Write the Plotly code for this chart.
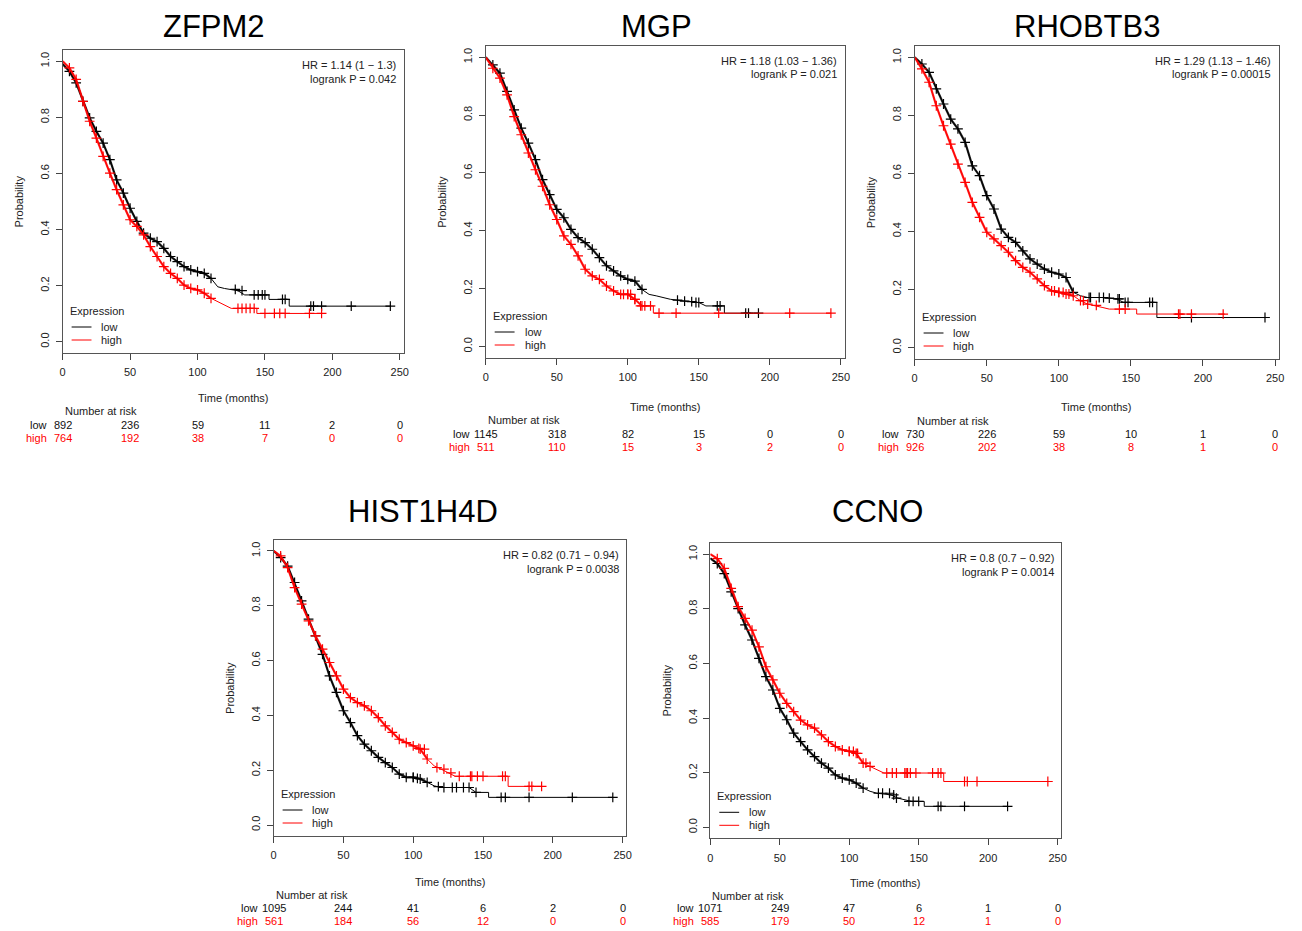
import plotly.graph_objects as go

W, H = 1302, 931          # browser window
PAD = 8                   # default body margin of the written page
FW, FH = W - PAD, H - PAD

# ---------------- data ----------------
GENES = ["ZFPM2", "MGP", "RHOBTB3", "HIST1H4D", "CCNO"]
X_TICKS = [0, 50, 100, 150, 200, 250]
Y_TICKS = [0.0, 0.2, 0.4, 0.6, 0.8, 1.0]
Y_TICK_TEXT = ["0.0", "0.2", "0.4", "0.6", "0.8", "1.0"]
GROUPS = ["low", "high"]

# ZFPM2
zfpm2_low_t = [0, 5, 10, 15, 20, 25, 30, 35, 40, 45, 50, 55, 60, 65, 70, 75, 80, 85, 90, 95, 100, 105, 110, 115, 120, 125, 130, 135, 153, 153, 168, 168, 243]
zfpm2_low_s = [0.99, .964, .923, .857, .798, .75, .708, .649, .577, .53, .476, .429, .387, .369, .357, .333, .304, .286, .268, .256, .25, .244, .226, .196, .19, .187, .182, .167, .167, .151, .151, .127, .127]
zfpm2_low_ct = [128, 133, 142, 145, 148, 150, 163, 165, 184, 186, 192, 214, 243]
zfpm2_low_cs = [.187, .182, .167, .167, .167, .167, .151, .151, .127, .127, .127, .127, .127]
zfpm2_high_t = [0, 5, 10, 15, 20, 25, 30, 35, 40, 45, 50, 55, 60, 65, 70, 75, 80, 85, 90, 95, 100, 105, 110, 115, 120, 125, 144, 144, 192]
zfpm2_high_s = [1.0, .976, .935, .857, .786, .726, .661, .601, .542, .488, .435, .411, .381, .339, .304, .268, .244, .226, .202, .19, .185, .173, .155, .143, .131, .119, .119, .101, .101]
zfpm2_high_ct = [130, 133, 136, 139, 142, 150, 157, 161, 165, 183, 192]
zfpm2_high_cs = [.119, .119, .119, .119, .119, .101, .101, .101, .101, .101, .101]
zfpm2_risk_low = [892, 236, 59, 11, 2, 0]
zfpm2_risk_high = [764, 192, 38, 7, 0, 0]
zfpm2_stats = ["HR = 1.14 (1 \u2212 1.3)", "logrank P = 0.042"]

# MGP
mgp_low_t = [0, 5, 10, 15, 20, 25, 30, 35, 40, 45, 50, 55, 60, 65, 70, 75, 80, 85, 90, 95, 100, 105, 110, 115, 120, 125, 130, 140, 150, 155, 168, 168, 192]
mgp_low_s = [1.0, .974, .945, .882, .818, .755, .703, .646, .577, .525, .474, .445, .405, .376, .359, .336, .307, .279, .261, .244, .232, .226, .197, .18, .175, .169, .163, .157, .152, .14, .14, .115, .115]
mgp_low_ct = [135, 140, 145, 148, 150, 163, 165, 183, 185, 192]
mgp_low_cs = [.16, .157, .155, .152, .152, .14, .14, .115, .115, .115]
mgp_high_t = [0, 5, 10, 15, 20, 25, 30, 35, 40, 45, 50, 55, 60, 65, 70, 75, 80, 85, 90, 95, 100, 105, 110, 118, 118, 243]
mgp_high_s = [1.0, .962, .928, .87, .795, .732, .669, .611, .554, .49, .439, .382, .353, .313, .267, .244, .232, .209, .192, .18, .18, .163, .14, .14, .115, .115]
mgp_high_ct = [97, 100, 102, 105, 109, 112, 116, 122, 134, 164, 214, 243]
mgp_high_cs = [.18, .18, .18, .163, .14, .14, .14, .115, .115, .115, .115, .115]
mgp_risk_low = [1145, 318, 82, 15, 0, 0]
mgp_risk_high = [511, 110, 15, 3, 2, 0]
mgp_stats = ["HR = 1.18 (1.03 \u2212 1.36)", "logrank P = 0.021"]

# RHOBTB3
rhobtb3_low_t = [0, 5, 10, 15, 20, 25, 30, 35, 40, 45, 50, 55, 60, 65, 70, 75, 80, 85, 90, 95, 100, 105, 110, 115, 120, 130, 140, 145, 168, 168, 243]
rhobtb3_low_s = [1.0, .977, .948, .891, .839, .787, .753, .707, .626, .592, .523, .477, .408, .379, .362, .333, .305, .287, .27, .259, .253, .241, .19, .178, .172, .172, .167, .155, .155, .103, .103]
rhobtb3_low_ct = [121, 122, 128, 131, 135, 141, 142, 146, 148, 163, 165, 192, 243]
rhobtb3_low_cs = [.172, .172, .172, .172, .17, .167, .167, .155, .155, .155, .155, .103, .103]
rhobtb3_high_t = [0, 5, 10, 15, 20, 25, 30, 35, 40, 45, 50, 55, 60, 65, 70, 75, 80, 85, 90, 95, 100, 105, 110, 115, 120, 130, 135, 145, 154, 154, 215]
rhobtb3_high_s = [1.0, .96, .914, .833, .764, .701, .632, .569, .5, .448, .397, .374, .351, .328, .299, .276, .259, .236, .213, .195, .19, .184, .178, .161, .149, .138, .132, .132, .132, .115, .115]
rhobtb3_high_ct = [97, 100, 103, 107, 115, 117, 120, 126, 142, 146, 183, 184, 192, 214]
rhobtb3_high_cs = [.195, .19, .19, .184, .161, .161, .149, .145, .132, .132, .115, .115, .115, .115]
rhobtb3_risk_low = [730, 226, 59, 10, 1, 0]
rhobtb3_risk_high = [926, 202, 38, 8, 1, 0]
rhobtb3_stats = ["HR = 1.29 (1.13 \u2212 1.46)", "logrank P = 0.00015"]

# HIST1H4D
hist1h4d_low_t = [0, 5, 10, 15, 20, 25, 30, 35, 40, 45, 50, 55, 60, 65, 70, 75, 80, 85, 90, 95, 100, 105, 110, 115, 120, 140, 145, 154, 154, 243]
hist1h4d_low_s = [1.0, .976, .945, .885, .818, .751, .69, .623, .544, .484, .417, .374, .326, .295, .271, .247, .228, .21, .186, .174, .174, .168, .156, .143, .137, .137, .119, .119, .101, .101]
hist1h4d_low_ct = [100, 103, 118, 122, 128, 131, 136, 140, 145, 163, 166, 183, 214, 243]
hist1h4d_low_cs = [.174, .17, .14, .137, .137, .137, .137, .137, .119, .101, .101, .101, .101, .101]
hist1h4d_high_t = [0, 5, 10, 15, 20, 25, 30, 35, 40, 45, 50, 55, 60, 65, 70, 75, 80, 85, 90, 95, 100, 105, 110, 115, 120, 125, 130, 168, 168, 192]
hist1h4d_high_s = [1.0, .982, .939, .866, .806, .745, .69, .642, .593, .544, .496, .465, .447, .435, .417, .392, .362, .338, .313, .301, .289, .277, .241, .216, .204, .192, .178, .178, .141, .141]
hist1h4d_high_ct = [104, 108, 117, 122, 127, 133, 141, 142, 146, 150, 164, 166, 183, 185, 192]
hist1h4d_high_cs = [.28, .277, .21, .204, .19, .178, .178, .178, .178, .178, .178, .178, .141, .141, .141]
hist1h4d_risk_low = [1095, 244, 41, 6, 2, 0]
hist1h4d_risk_high = [561, 184, 56, 12, 0, 0]
hist1h4d_stats = ["HR = 0.82 (0.71 \u2212 0.94)", "logrank P = 0.0038"]

# CCNO
ccno_low_t = [0, 5, 10, 15, 20, 25, 30, 35, 40, 45, 50, 55, 60, 65, 70, 75, 80, 85, 90, 95, 100, 105, 110, 115, 120, 130, 135, 145, 154, 154, 214]
ccno_low_s = [0.985, .966, .929, .862, .801, .741, .686, .619, .552, .503, .436, .394, .345, .314, .284, .259, .235, .217, .192, .18, .174, .162, .144, .132, .125, .119, .107, .095, .095, .077, .077]
ccno_low_ct = [121, 124, 129, 132, 134, 143, 146, 150, 164, 166, 183, 214]
ccno_low_cs = [.125, .125, .125, .119, .107, .095, .095, .095, .077, .077, .077, .077]
ccno_high_t = [0, 5, 10, 15, 20, 25, 30, 35, 40, 45, 50, 55, 60, 65, 70, 75, 80, 85, 90, 95, 100, 105, 110, 115, 120, 125, 168, 168, 243]
ccno_high_s = [1.0, .984, .948, .875, .808, .765, .722, .661, .588, .54, .491, .454, .424, .393, .375, .363, .339, .314, .296, .284, .278, .271, .235, .223, .211, .199, .199, .168, .168]
ccno_high_ct = [100, 103, 106, 112, 115, 127, 131, 134, 140, 141, 142, 144, 148, 160, 164, 166, 183, 185, 192, 243]
ccno_high_cs = [.278, .278, .271, .235, .223, .199, .199, .199, .199, .199, .199, .199, .199, .199, .199, .199, .168, .168, .168, .168]
ccno_risk_low = [1071, 249, 47, 6, 1, 0]
ccno_risk_high = [585, 179, 50, 12, 1, 0]
ccno_stats = ["HR = 0.8 (0.7 \u2212 0.92)", "logrank P = 0.0014"]

DATA = [
    (zfpm2_low_t, zfpm2_low_s, zfpm2_low_ct, zfpm2_low_cs, zfpm2_high_t, zfpm2_high_s, zfpm2_high_ct, zfpm2_high_cs, zfpm2_risk_low, zfpm2_risk_high, zfpm2_stats),
    (mgp_low_t, mgp_low_s, mgp_low_ct, mgp_low_cs, mgp_high_t, mgp_high_s, mgp_high_ct, mgp_high_cs, mgp_risk_low, mgp_risk_high, mgp_stats),
    (rhobtb3_low_t, rhobtb3_low_s, rhobtb3_low_ct, rhobtb3_low_cs, rhobtb3_high_t, rhobtb3_high_s, rhobtb3_high_ct, rhobtb3_high_cs, rhobtb3_risk_low, rhobtb3_risk_high, rhobtb3_stats),
    (hist1h4d_low_t, hist1h4d_low_s, hist1h4d_low_ct, hist1h4d_low_cs, hist1h4d_high_t, hist1h4d_high_s, hist1h4d_high_ct, hist1h4d_high_cs, hist1h4d_risk_low, hist1h4d_risk_high, hist1h4d_stats),
    (ccno_low_t, ccno_low_s, ccno_low_ct, ccno_low_cs, ccno_high_t, ccno_high_s, ccno_high_ct, ccno_high_cs, ccno_risk_low, ccno_risk_high, ccno_stats),
]

# ---------------- layout / style (pixel geometry in the page) ----------------
GEOM = [
    dict(L=60, R=403, T=50, B=353, time=398, nar=411, low=424.5, high=438, title=(212, 26)),
    dict(L=485.7, R=847, T=45.7, B=358, time=407, nar=420, low=434, high=447, title=(658, 26)),
    dict(L=917.3, R=1284, T=45.7, B=359, time=407, nar=421, low=434, high=447, title=(1091, 26)),
    dict(L=272.3, R=627.3, T=540, B=836, time=881.7, nar=895, low=907.7, high=920.5, title=(423, 511)),
    dict(L=711.7, R=1065, T=543.3, B=838.3, time=882.7, nar=895.7, low=908, high=921, title=(880, 511)),
]
COLORS = {"low": "#000000", "high": "#ff0000"}
FONT = "Liberation Sans, Arial, sans-serif"
X_MAX = 252.8
DENSE_MAX = 110


def px(x):
    return (x - PAD) / FW


def py(y):
    return 1 - (y - PAD) / FH


fig = go.Figure()
annotations = []
shapes = []

for i, (gene, g, d) in enumerate(zip(GENES, GEOM, DATA)):
    k = i + 1
    xa = "x" if k == 1 else f"x{k}"
    ya = "y" if k == 1 else f"y{k}"
    series = {"low": d[0:4], "high": d[4:8]}
    for grp in GROUPS:
        t, s, ct, cs = series[grp]
        c = COLORS[grp]
        mx = [tt for tt in t if tt <= DENSE_MAX]
        my = [ss for tt, ss in zip(t, s) if tt <= DENSE_MAX]
        # dense, censor-crowded early part drawn heavier
        fig.add_trace(go.Scatter(x=mx, y=my, mode="lines", line=dict(color=c, width=2.2),
                                 opacity=0.85, xaxis=xa, yaxis=ya, showlegend=False, hoverinfo="skip"))
        fig.add_trace(go.Scatter(x=t, y=s, mode="lines", line=dict(color=c, width=1),
                                 xaxis=xa, yaxis=ya, showlegend=False, hoverinfo="skip"))
        fig.add_trace(go.Scatter(x=mx[1:] + ct, y=my[1:] + cs, mode="markers",
                                 marker=dict(symbol="cross-thin", size=7, color=c,
                                             line=dict(color=c, width=1.2)),
                                 xaxis=xa, yaxis=ya, showlegend=False, hoverinfo="skip"))

    axis_common = dict(showgrid=False, zeroline=False, showline=True, mirror=True,
                       linecolor="#555555", linewidth=1, ticks="outside", ticklen=6,
                       tickcolor="#444444", tickwidth=1,
                       tickfont=dict(family=FONT, size=11, color="#222222"))
    fig.update_layout({
        ("xaxis" if k == 1 else f"xaxis{k}"): dict(
            domain=[px(g["L"]), px(g["R"])], range=[0, X_MAX], anchor=ya,
            tickvals=X_TICKS, ticktext=[str(v) for v in X_TICKS], ticklabelstandoff=3,
            **axis_common),
        ("yaxis" if k == 1 else f"yaxis{k}"): dict(
            domain=[py(g["B"]), py(g["T"])], range=[-0.04, 1.04], anchor=xa,
            tickvals=Y_TICKS, ticktext=Y_TICK_TEXT, tickangle=-90, ticklabelstandoff=2,
            **axis_common),
    })

    f11 = dict(family=FONT, size=11, color="#222222")
    annotations.append(dict(text=gene, x=px(g["title"][0]), y=py(g["title"][1]), xref="paper", yref="paper",
                            showarrow=False, xanchor="center", yanchor="middle",
                            font=dict(family=FONT, size=31, color="#000000")))
    for j, line in enumerate(d[10]):
        annotations.append(dict(text=line, x=px(g["R"] - 6), y=py(g["T"] + 15 + 13.5 * j),
                                xref="paper", yref="paper", showarrow=False,
                                xanchor="right", yanchor="middle", font=f11))
    annotations.append(dict(text="Time (months)", x=px((g["L"] + g["R"]) / 2), y=py(g["time"]),
                            xref="paper", yref="paper", showarrow=False, xanchor="center",
                            yanchor="middle", font=f11))
    annotations.append(dict(text="Probability", x=px(g["L"] - 44), y=py((g["T"] + g["B"]) / 2),
                            xref="paper", yref="paper", showarrow=False, textangle=-90,
                            xanchor="center", yanchor="middle", font=f11))
    annotations.append(dict(text="Expression", x=px(g["L"] + 5), y=py(g["B"] - 42),
                            xref="paper", yref="paper", showarrow=False, xanchor="left",
                            yanchor="middle", font=f11))
    for j, grp in enumerate(GROUPS):
        yy = g["B"] - 26 + 13 * j
        shapes.append(dict(type="line", xref="paper", yref="paper", x0=px(g["L"] + 9), x1=px(g["L"] + 29),
                           y0=py(yy), y1=py(yy), line=dict(color=COLORS[grp], width=1)))
        annotations.append(dict(text=grp, x=px(g["L"] + 37), y=py(yy), xref="paper", yref="paper",
                                showarrow=False, xanchor="left", yanchor="middle", font=f11))
    annotations.append(dict(text="Number at risk", x=px(g["L"]), y=py(g["nar"]), xref="paper", yref="paper",
                            showarrow=False, xanchor="left", yanchor="middle", font=f11))
    for grp, risk, row_y in (("low", d[8], g["low"]), ("high", d[9], g["high"])):
        col = COLORS[grp] if grp == "high" else "#111111"
        annotations.append(dict(text=grp, x=0, xref=xa, y=py(row_y), yref="paper", xshift=-14,
                                showarrow=False, xanchor="right", yanchor="middle",
                                font=dict(family=FONT, size=11, color=col)))
        for tv, n in zip(X_TICKS, risk):
            annotations.append(dict(text=str(n), x=tv, xref=xa, y=py(row_y), yref="paper",
                                    showarrow=False, xanchor="center", yanchor="middle",
                                    font=dict(family=FONT, size=11, color=col)))

fig.update_layout(width=FW, height=FH, margin=dict(l=0, r=0, t=0, b=0),
                  paper_bgcolor="white", plot_bgcolor="white",
                  annotations=annotations, shapes=shapes, showlegend=False)

fig.write_html("out.html")
